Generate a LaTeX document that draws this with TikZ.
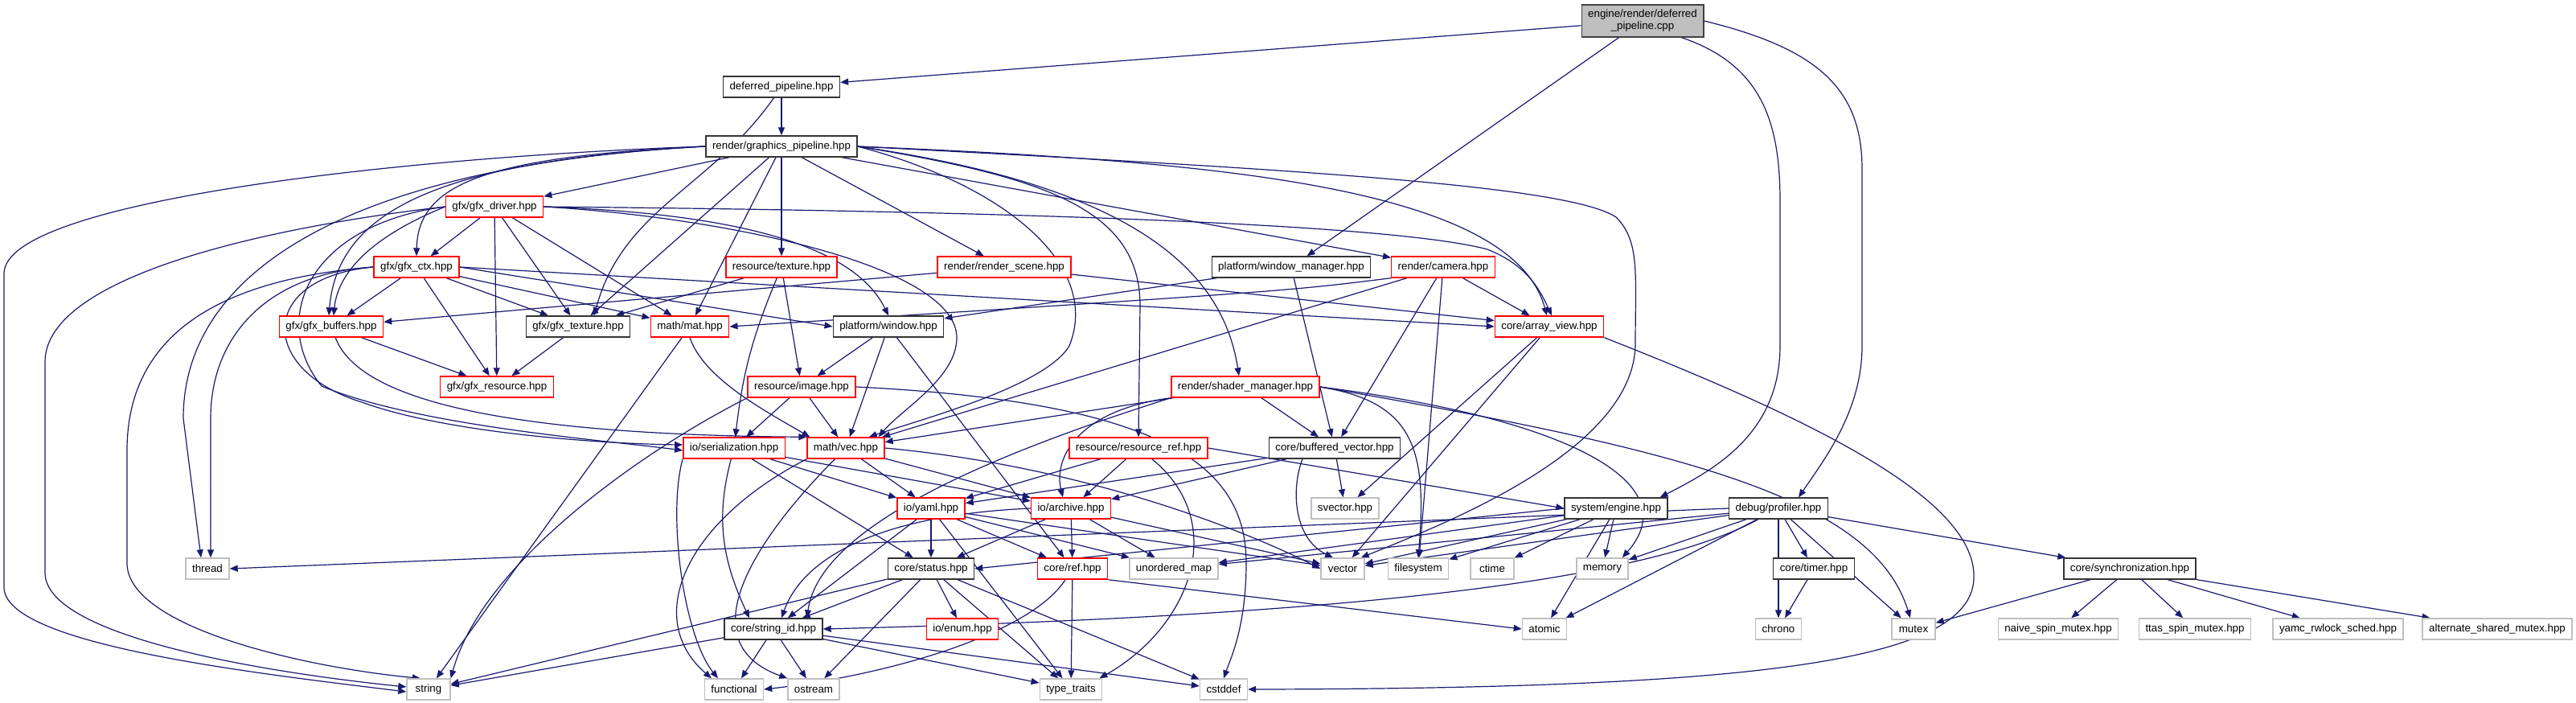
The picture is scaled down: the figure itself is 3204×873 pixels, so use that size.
\documentclass[tikz,border=0pt]{standalone}
\usepackage{fontspec}
\usepackage{tikz}
\usetikzlibrary{arrows.meta,backgrounds}
\newfontfamily\graphfont{Liberation Sans}
\definecolor{EdgeNavy}{RGB}{25,25,112}
\definecolor{CutRed}{RGB}{255,0,0}
\definecolor{SysGray}{RGB}{191,191,191}
\definecolor{RootFill}{RGB}{191,191,191}
\definecolor{RootLine}{RGB}{64,64,64}

\begin{document}
\begin{tikzpicture}[x=1pt, y=-1pt,
	file/.style={draw, line width=1.4pt, fill=white, minimum height=26pt, minimum width=54pt,
		inner xsep=8pt, inner ysep=0pt, font=\graphfont\fontsize{13.33}{15}\selectfont},
	known/.style={file, draw=black!80},
	cut/.style={file, draw=CutRed},
	sys/.style={file, draw=SysGray},
	src/.style={file, draw=RootLine, fill=RootFill, minimum height=40pt, align=center},
	inc/.style={draw=EdgeNavy, line width=1.2pt, -{Triangle[length=10pt,width=8pt]}}]
	\useasboundingbox (0,0) rectangle (3204,873);
	% files, one rank per row
	\node[src] (root) at (2043,26) {engine/render/deferred\\\_pipeline.cpp};
	\node[known] (dp) at (972,108) {deferred\_pipeline.hpp};
	\node[known] (gp) at (972,182) {render/graphics\_pipeline.hpp};
	\node[cut] (gfxdrv) at (615,257) {gfx/gfx\_driver.hpp};
	\node[cut] (gfxctx) at (518,332) {gfx/gfx\_ctx.hpp};
	\node[cut] (restex) at (972,332) {resource/texture.hpp};
	\node[cut] (scene) at (1249,332) {render/render\_scene.hpp};
	\node[known] (wm) at (1606,332) {platform/window\_manager.hpp};
	\node[cut] (camera) at (1795,332) {render/camera.hpp};
	\node[cut] (gfxbuf) at (412,406) {gfx/gfx\_buffers.hpp};
	\node[known] (gfxtex) at (719,406) {gfx/gfx\_texture.hpp};
	\node[cut] (mat) at (858,406) {math/mat.hpp};
	\node[known] (window) at (1105,406) {platform/window.hpp};
	\node[cut] (arrview) at (1927,406) {core/array\_view.hpp};
	\node[cut] (gfxres) at (618,481) {gfx/gfx\_resource.hpp};
	\node[cut] (image) at (997,481) {resource/image.hpp};
	\node[cut] (shader) at (1549,481) {render/shader\_manager.hpp};
	\node[cut] (serial) at (913,557) {io/serialization.hpp};
	\node[cut] (vec) at (1052,557) {math/vec.hpp};
	\node[cut] (resref) at (1416,557) {resource/resource\_ref.hpp};
	\node[known] (bufvec) at (1660,557) {core/buffered\_vector.hpp};
	\node[cut] (yaml) at (1158,632) {io/yaml.hpp};
	\node[cut] (archive) at (1332,632) {io/archive.hpp};
	\node[sys] (svector) at (1673,632) {svector.hpp};
	\node[known] (engine) at (2010,632) {system/engine.hpp};
	\node[known] (profiler) at (2212,632) {debug/profiler.hpp};
	\node[sys] (thread) at (258,707) {thread};
	\node[known] (status) at (1158,707) {core/status.hpp};
	\node[cut] (ref) at (1334,707) {core/ref.hpp};
	\node[sys] (umap) at (1460,707) {unordered\_map};
	\node[sys] (vector) at (1670,707) {vector};
	\node[sys] (fs) at (1764,707) {filesystem};
	\node[sys] (ctime) at (1856,707) {ctime};
	\node[sys] (memory) at (1993,707) {memory};
	\node[known] (timer) at (2256,707) {core/timer.hpp};
	\node[known] (sync) at (2649,707) {core/synchronization.hpp};
	\node[known] (strid) at (962,782) {core/string\_id.hpp};
	\node[cut] (enum) at (1197,782) {io/enum.hpp};
	\node[sys] (atomic) at (1921,782) {atomic};
	\node[sys] (chrono) at (2212,782) {chrono};
	\node[sys] (mutex) at (2380,782) {mutex};
	\node[sys] (naive) at (2560,782) {naive\_spin\_mutex.hpp};
	\node[sys] (ttas) at (2730,782) {ttas\_spin\_mutex.hpp};
	\node[sys] (yamc) at (2908,782) {yamc\_rwlock\_sched.hpp};
	\node[sys] (altmutex) at (3106,782) {alternate\_shared\_mutex.hpp};
	\node[sys] (string) at (533,857) {string};
	\node[sys] (functional) at (913,857) {functional};
	\node[sys] (ostream) at (1012,857) {ostream};
	\node[sys] (typetraits) at (1332,857) {type\_traits};
	\node[sys] (cstddef) at (1522,857) {cstddef};

	\begin{scope}[on background layer]
		% source file
		\draw[inc] (root) -- (dp);
		\draw[inc] (root) -- (wm);
		\draw[inc] ([xshift=-28pt]root.south east) .. controls (2190,80) and (2214,150) .. (2214,250)
			-- (2214,430) .. controls (2214,540) and (2130,585) .. ([xshift=-10pt]engine.north east);
		\draw[inc] (root.east) .. controls (2260,60) and (2316,110) .. (2316,210)
			-- (2316,430) .. controls (2316,510) and (2270,570) .. ([xshift=25pt]profiler.north);
		% deferred_pipeline.hpp
		\draw[inc] (dp) -- (gp);
		\draw[inc] (dp) to[out=-125,in=75] ([xshift=20pt]gfxtex.north);
		% render/graphics_pipeline.hpp
		\draw[inc] (gp.west) .. controls (500,195) and (5,250) .. (5,340)
			-- (5,730) .. controls (5,800) and (300,835) .. ([yshift=-3pt]string.west);
		\draw[inc] (gp.west) .. controls (450,205) and (228,330) .. (228,520) -- ([xshift=-8pt]thread.north);
		\draw[inc] (gp) -- (gfxdrv);
		\draw[inc] (gp.west) .. controls (600,195) and (520,230) .. (gfxctx.north);
		\draw[inc] (gp.west) .. controls (550,200) and (420,260) .. ([xshift=-3pt]gfxbuf.north);
		\draw[inc] (gp) -- (gfxtex);
		\draw[inc] (gp) -- (mat);
		\draw[inc] (gp) -- (restex);
		\draw[inc] (gp) -- (scene);
		\draw[inc] (gp) -- (camera);
		\draw[inc] (gp.east) .. controls (1250,230) and (1370,330) .. (1330,430)
			.. controls (1300,480) and (1150,520) .. ([xshift=-20pt]vec.north east);
		\draw[inc] (gp.east) .. controls (1300,220) and (1418,260) .. (1418,380) -- (resref.north);
		\draw[inc] (gp.east) .. controls (1400,230) and (1520,330) .. ([xshift=-8pt]shader.north);
		\draw[inc] (gp.east) .. controls (1500,200) and (1880,230) .. ([xshift=-3pt]arrview.north);
		\draw[inc] (gp.east) .. controls (1600,210) and (1950,230) .. (2010,270)
			.. controls (2040,300) and (2034,340) .. (2034,430)
			.. controls (2030,560) and (1800,650) .. ([xshift=-5pt]vector.north east);
		% gfx/gfx_driver.hpp
		\draw[inc] (gfxdrv) -- (gfxctx);
		\draw[inc] (gfxdrv.west) .. controls (460,295) and (420,340) .. ([xshift=3pt]gfxbuf.north);
		\draw[inc] (gfxdrv) -- (gfxtex);
		\draw[inc] (gfxdrv) -- (gfxres);
		\draw[inc] (gfxdrv) -- (mat);
		\draw[inc] (gfxdrv.east) .. controls (900,270) and (1190,330) .. (1190,420)
			.. controls (1190,470) and (1120,510) .. ([xshift=-8pt]vec.north east);
		\draw[inc] (gfxdrv.east) .. controls (900,265) and (1060,300) .. (window.north);
		\draw[inc] (gfxdrv.east) .. controls (1000,260) and (1700,270) .. (1850,310)
			.. controls (1900,330) and (1915,360) .. ([xshift=3pt]arrview.north);
		\draw[inc] (gfxdrv.west) .. controls (350,280) and (56,340) .. (56,450)
			-- (56,712) .. controls (56,790) and (320,835) .. ([yshift=3pt]string.west);
		\draw[inc] (gfxdrv.west) .. controls (380,280) and (335,400) .. (400,480)
			.. controls (520,530) and (760,548) .. ([yshift=-3pt]serial.west);
		% gfx/gfx_ctx.hpp
		\draw[inc] (gfxctx) -- (gfxbuf);
		\draw[inc] (gfxctx) -- (gfxtex);
		\draw[inc] (gfxctx) -- (gfxres);
		\draw[inc] (gfxctx) -- (mat);
		\draw[inc] (gfxctx.east) -- (window.west);
		\draw[inc] (gfxctx.east) -- (arrview.west);
		\draw[inc] (gfxctx.west) .. controls (320,345) and (320,460) .. (450,500)
			.. controls (560,540) and (760,552) .. ([yshift=4pt]serial.west);
		\draw[inc] (gfxctx.west) .. controls (330,340) and (262,420) .. (262,520) -- ([xshift=4pt]thread.north);
		\draw[inc] (gfxctx.west) .. controls (300,345) and (158,400) .. (158,560)
			-- (158,700) .. controls (158,780) and (380,830) .. ([xshift=-10pt]string.north);
		% gfx buffers, texture, resource
		\draw[inc] (gfxbuf) -- (gfxres);
		\draw[inc] (gfxbuf) .. controls (440,480) and (560,540) .. (vec.north west);
		\draw[inc] (gfxtex) -- (gfxres);
		\draw[inc] (restex) -- (gfxtex);
		\draw[inc] (restex) -- (image);
		\draw[inc] (restex) to[bend right=8] (serial);
		\draw[inc] (scene) -- (gfxbuf);
		\draw[inc] (scene) -- (arrview);
		% platform and camera
		\draw[inc] (wm) -- (window);
		\draw[inc] (wm) -- (bufvec);
		\draw[inc] (camera.south west) .. controls (1600,362) .. (mat.east);
		\draw[inc] (camera) -- (arrview);
		\draw[inc] (camera) -- (bufvec);
		\draw[inc] (camera) -- (vec);
		\draw[inc] (camera) -- (fs);
		\draw[inc] (window) -- (image);
		\draw[inc] (window) -- (vec);
		\draw[inc] (window) -- (ref);
		\draw[inc] (mat.south) .. controls (875,470) and (950,510) .. ([xshift=4pt]vec.north west);
		\draw[inc] (mat) -- (string);
		\draw[inc] (arrview) -- (svector);
		\draw[inc] (arrview) -- (vector);
		\draw[inc] (arrview.south east) .. controls (2250,520) and (2460,620) .. (2455,720)
			.. controls (2450,820) and (2200,856) .. (cstddef.east);
		% resource/image.hpp
		\draw[inc] (image) -- (serial);
		\draw[inc] (image) -- (vec);
		\draw[inc] (image.south west) .. controls (800,560) and (600,700) .. (string.north east);
		\draw[inc] (image.east) .. controls (1450,500) and (1550,580) .. (1550,700)
			.. controls (1550,780) and (1530,820) .. (cstddef.north);
		% render/shader_manager.hpp
		\draw[inc] (shader) -- (vec);
		\draw[inc] (shader.south west) .. controls (1340,510) and (1310,570) .. ([xshift=-10pt]archive.north);
		\draw[inc] (shader.south west) .. controls (1250,560) and (1020,650) .. ([xshift=-20pt]strid.north east);
		\draw[inc] (shader) -- (bufvec);
		\draw[inc] (shader.east) .. controls (1760,500) and (1775,560) .. (fs.north);
		\draw[inc] (shader.east) .. controls (1950,520) and (2100,600) .. ([xshift=-8pt]memory.north east);
		\draw[inc] (shader.east) .. controls (2100,560) and (2330,620) .. ([xshift=-4pt]mutex.north);
		% io and math
		\draw[inc] (serial) -- (yaml);
		\draw[inc] (serial) -- (archive);
		\draw[inc] (serial) -- (status);
		\draw[inc] (serial) to[out=-105,in=115] ([xshift=-30pt]strid.north);
		\draw[inc] (serial.south west) .. controls (830,640) and (850,790) .. ([xshift=-20pt]functional.north);
		\draw[inc] (vec) -- (yaml);
		\draw[inc] (vec) -- (archive);
		\draw[inc] (vec.south west) .. controls (850,650) and (800,770) .. ([xshift=-28pt]functional.north);
		\draw[inc] (vec) .. controls (930,680) and (860,800) .. (ostream.north west);
		\draw[inc] (vec.east) .. controls (1350,580) and (1550,660) .. (vector.west);
		\draw[inc] (resref) -- (yaml);
		\draw[inc] (resref) -- (archive);
		\draw[inc] (resref.east) -- (engine.west);
		\draw[inc] (resref) .. controls (1530,650) and (1480,780) .. ([xshift=-4pt]typetraits.north east);
		\draw[inc] (bufvec) -- (yaml);
		\draw[inc] (bufvec) -- (archive);
		\draw[inc] (bufvec) -- (svector);
		\draw[inc] ([xshift=-40pt]bufvec.south) .. controls (1605,610) and (1610,670) .. ([xshift=-12pt]vector.north);
		\draw[inc] (yaml) -- (status);
		\draw[inc] (yaml) -- (ref);
		\draw[inc] (yaml) -- (strid);
		\draw[inc] (yaml) -- (umap);
		\draw[inc] (yaml) -- (typetraits);
		\draw[inc] (yaml) -- (vector);
		\draw[inc] (archive.west) .. controls (1100,640) and (1000,690) .. ([xshift=10pt]strid.north);
		\draw[inc] (archive) -- (status);
		\draw[inc] (archive) -- (ref);
		\draw[inc] (archive) -- (umap);
		\draw[inc] (archive) -- (vector);
		% core
		\draw[inc] (status) -- (strid);
		\draw[inc] (status) -- (enum);
		\draw[inc] (status) -- (ostream);
		\draw[inc] (status) -- (typetraits);
		\draw[inc] (status) -- (cstddef);
		\draw[inc] (status) -- (string);
		\draw[inc] (ref) .. controls (1280,790) and (1100,840) .. (functional.east);
		\draw[inc] (ref) -- (typetraits);
		\draw[inc] (ref.south east) -- (atomic.west);
		\draw[inc] (strid) -- (functional);
		\draw[inc] (strid) -- (ostream);
		\draw[inc] (strid) -- (typetraits);
		\draw[inc] (strid) -- (cstddef);
		\draw[inc] (strid) -- (string);
		% system/engine.hpp
		\draw[inc] (engine.west) -- (status.east);
		\draw[inc] (engine) -- (vector);
		\draw[inc] (engine) -- (fs);
		\draw[inc] (engine) -- (ctime);
		\draw[inc] (engine) -- (memory);
		\draw[inc] (engine) -- (atomic);
		\draw[inc] (engine) -- (umap);
		% debug/profiler.hpp
		\draw[inc] (profiler.west) -- (thread.east);
		\draw[inc] (profiler) .. controls (2050,720) and (1700,765) .. (strid.east);
		\draw[inc] (profiler) -- (umap);
		\draw[inc] (profiler) -- (vector);
		\draw[inc] (profiler) -- (memory);
		\draw[inc] (profiler) -- (atomic);
		\draw[inc] (profiler) -- (chrono);
		\draw[inc] (profiler) -- (timer);
		\draw[inc] (profiler) -- (mutex);
		\draw[inc] (profiler) -- (sync);
		\draw[inc] (timer) -- (chrono);
		\draw[inc] (sync) -- (mutex);
		\draw[inc] (sync) -- (naive);
		\draw[inc] (sync) -- (ttas);
		\draw[inc] (sync) -- (yamc);
		\draw[inc] (sync) -- (altmutex);
	\end{scope}
\end{tikzpicture}
\end{document}
